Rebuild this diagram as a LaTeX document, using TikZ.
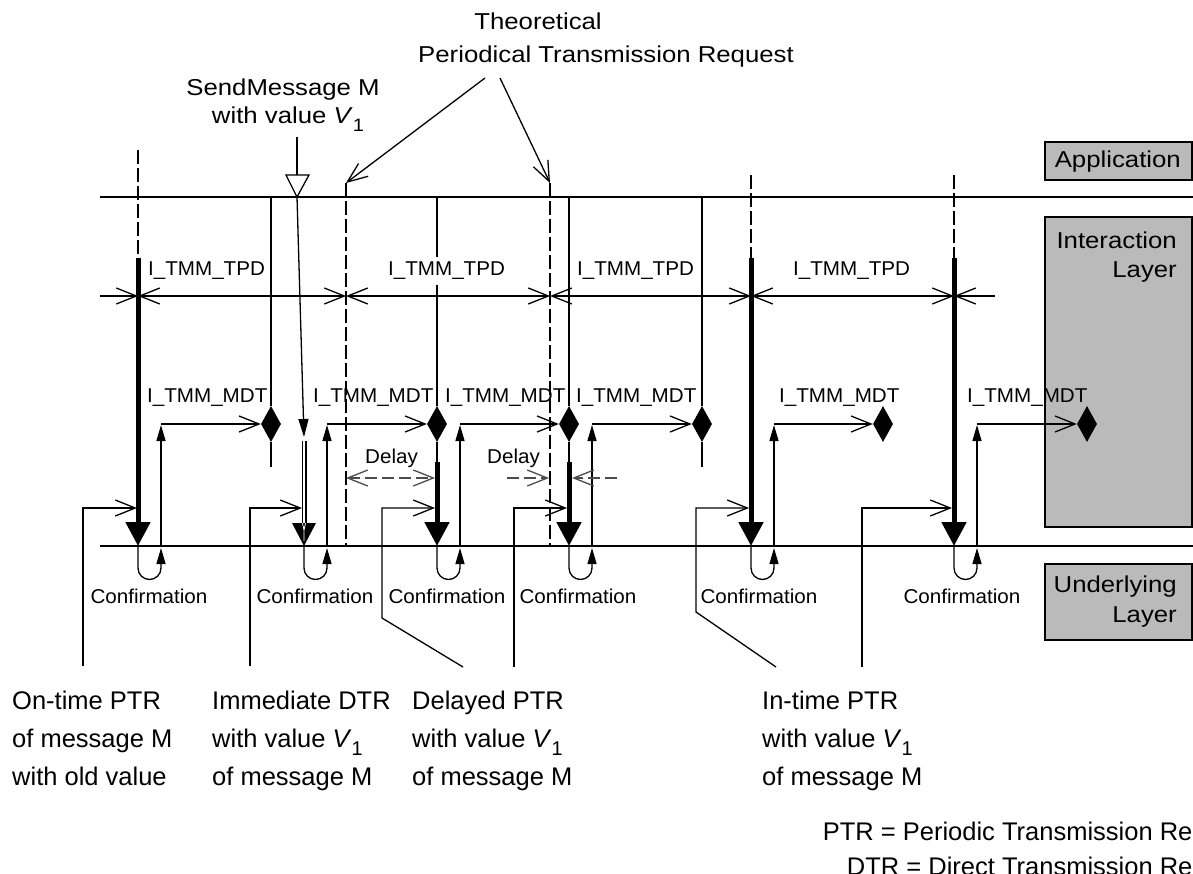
\documentclass[tikz,border=0pt]{standalone}
\usepackage{fontspec}
\usepackage{graphicx}
\setmainfont{Liberation Sans}
\newfontfamily\lblface[FakeStretch=1.03]{Liberation Sans}
\newfontfamily\bigface[FakeStretch=1.12]{Liberation Sans}
\usetikzlibrary{arrows.meta,shapes.geometric}

\newcommand{\lblsize}{\lblface\fontsize{20}{24}\selectfont}
\newcommand{\bigsize}{\bigface\fontsize{23}{28}\selectfont}
\newcommand{\botsize}{\fontsize{25.5}{31}\selectfont}
\newcommand{\vone}{\textit{V}\raisebox{-0.32em}{\scalebox{0.78}{1}}}

\tikzset{
  vee/.tip={Straight Barb[length=20pt,width=16pt,line width=1.3pt]},
  smallfill/.tip={Triangle[length=16pt,width=9pt]},
  slimfill/.tip={Triangle[length=18pt,width=10pt]},
  bigfill/.tip={Triangle[length=24pt,width=24pt]},
  layerline/.style={line width=2.8pt},
  reqline/.style={line width=2.6pt},
  mdtline/.style={line width=2pt},
  ptrline/.style={line width=5pt},
  thinline/.style={line width=1.3pt},
  periodline/.style={line width=1.4pt,dash pattern=on 14pt off 4pt},
  delayline/.style={line width=1.4pt,draw=black!70,dash pattern=on 12pt off 5pt},
  dia/.style={diamond,fill=black,inner sep=0pt,minimum width=20pt,minimum height=36pt},
  layerbox/.style={draw=black,line width=2.4pt,fill=black!27},
  lbltext/.style={font=\lblsize,inner sep=0pt},
  tpdtext/.style={font=\lblsize,fill=white,inner xsep=0pt,inner ysep=5pt},
  bigtext/.style={font=\bigsize,inner sep=0pt},
  bottext/.style={font=\botsize,inner sep=0pt,anchor=base west},
}

\begin{document}
\begin{tikzpicture}[x=1pt,y=-1pt]
\useasboundingbox (0,0) rectangle (1193,874);
\clip (0,0) rectangle (1193,874);

% ---------- layer boxes on the right ----------
\draw[layerbox] (1045,142) rectangle (1192,180);
\draw[layerbox] (1045,217) rectangle (1192,527);
\draw[layerbox] (1045,564) rectangle (1192,640);
\node[bigtext,anchor=base east] (app) at (1181,168) {Application};
\node[bigtext,anchor=base east] (int1) at (1177,249) {Interaction};
\node[bigtext,anchor=base east] (int2) at (1177,278) {Layer};
\node[bigtext,anchor=base east] (und1) at (1177,592) {Underlying};
\node[bigtext,anchor=base east] (und2) at (1177,622) {Layer};

% ---------- layer boundaries ----------
\coordinate (aL) at (100,197); \coordinate (aR) at (1193,197);
\coordinate (uL) at (100,546); \coordinate (uR) at (1193,546);
\draw[layerline] (aL) -- (aR);
\draw[layerline] (uL) -- (uR);

% ---------- theoretical period instants ----------
\foreach \n/\x/\top/\cut in {1/138/150/258, 2/346/183/546, 3/550/183/546, 4/751/175/258, 5/954/175/258}{
  \coordinate (pt\n) at (\x,\top);
  \coordinate (pc\n) at (\x,\cut);
  \coordinate (pb\n) at (\x,546);
  \draw[periodline] (pt\n) -- (pc\n);
}

% ---------- I_TMM_TPD dimension line ----------
\coordinate (tpd0) at (100,296);
\foreach \n/\x in {1/138, 2/346, 3/550, 4/751, 5/954}{ \coordinate (tpd\n) at (\x,296); }
\coordinate (tpd6) at (995,296);
\draw[thinline,-{vee}] (tpd0) -- (tpd1);
\draw[thinline,{vee}-{vee}] (tpd1) -- (tpd2);
\draw[thinline,{vee}-{vee}] (tpd2) -- (tpd3);
\draw[thinline,{vee}-{vee}] (tpd3) -- (tpd4);
\draw[thinline,{vee}-{vee}] (tpd4) -- (tpd5);
\draw[thinline,{vee}-] (tpd5) -- (tpd6);

% ---------- MDT expiry diamonds and request lines ----------
\foreach \n/\x in {1/271, 2/437, 3/569, 4/702, 5/883, 6/1087}{
  \node[dia] (d\n) at (\x,424) {};
}
\foreach \n/\x in {1/271, 2/437, 3/569, 4/702}{
  \coordinate (r\n) at (\x,197);
  \draw[reqline] (r\n) -- (d\n.north);
}
\coordinate (tail1) at (271,467);
\coordinate (tail4) at (702,467);
\draw[reqline] (d1.south) -- (tail1);
\draw[reqline] (d4.south) -- (tail4);

% ---------- periodic transmission requests ----------
\draw[ptrline,-{bigfill}] (pc1) -- (pb1);
\draw[ptrline,-{bigfill}] (pc4) -- (pb4);
\draw[ptrline,-{bigfill}] (pc5) -- (pb5);
\coordinate (k2) at (437,462); \coordinate (k3) at (569,462);
\coordinate (kb2) at (437,546); \coordinate (kb3) at (569,546);
\draw[reqline] (d2.south) -- (k2);
\draw[reqline] (d3.south) -- (k3);
\draw[ptrline,-{bigfill}] (k2) -- (kb2);
\draw[ptrline,-{bigfill}] (k3) -- (kb3);

% ---------- SendMessage and direct transmission request ----------
\coordinate (smtop) at (297,137);
\coordinate (smbase) at (297,175);
\coordinate (smtip) at (297,197);
\coordinate (dtr0) at (304,437);
\coordinate (dtr1) at (304,441);
\coordinate (dtr2) at (304,523);
\coordinate (dtrb) at (304,546);
\draw[thinline] (smtop) -- (smbase);
\draw[thinline,fill=white] (286,175) -- (309,175) -- (smtip) -- cycle;
\draw[thinline,-{slimfill}] (smtip) -- (dtr0);
\draw[line width=1.2pt,double distance=2.6pt] (dtr1) -- (dtr2);
\fill (292,523) -- (316,523) -- (dtrb) -- cycle;
\draw[white,line width=0.8pt] (302.4,523) -- (304,530) -- (305.6,523) (304,530) -- (304,541);

% ---------- confirmations and MDT start ----------
\foreach \c/\n in {138/1, 304/2, 437/3, 569/4, 751/5, 954/6}{
  \coordinate (cf\n) at (\c,546);
  \coordinate (up\n) at (\c+23,546);
  \coordinate (mt\n) at (\c+23,424);
  \draw[thinline,-{smallfill}] (cf\n) -- (\c,568) arc[start angle=180,end angle=0,radius=11.5] -- (\c+23,548);
  \draw[thinline,-{smallfill}] (up\n) -- (\c+23,425);
  \draw[mdtline,-{vee}] (mt\n) -- (d\n.west);
}

% ---------- delay indications ----------
\coordinate (dl1a) at (346,478); \coordinate (dl1b) at (435,478);
\draw[delayline,{vee}-{vee}] (dl1a) -- (dl1b);
\coordinate (dl2a) at (507,478); \coordinate (dl2b) at (549,478);
\coordinate (dl2c) at (617,478); \coordinate (dl2d) at (572,478);
\draw[delayline,-{vee}] (dl2a) -- (dl2b);
\draw[delayline,-{vee}] (dl2c) -- (dl2d);
\node[lbltext,anchor=base west] (dly1) at (365,463) {Delay};
\node[lbltext,anchor=base west] (dly2) at (487,463) {Delay};

% ---------- labels of the periods ----------
\node[tpdtext,anchor=base west] (tpdl1) at (148,276) {I\_TMM\_TPD};
\node[tpdtext,anchor=base west] (tpdl2) at (388,276) {I\_TMM\_TPD};
\node[tpdtext,anchor=base west] (tpdl3) at (577,276) {I\_TMM\_TPD};
\node[tpdtext,anchor=base west] (tpdl4) at (793,276) {I\_TMM\_TPD};
\foreach \n/\x in {1/147, 2/313, 3/445, 4/576, 5/779, 6/967}{
  \node[lbltext,anchor=base west] (mdtl\n) at (\x,402) {I\_TMM\_MDT};
}
\foreach \n/\x in {1/149, 2/315, 3/447, 4/578, 5/759, 6/962}{
  \node[lbltext,anchor=base] (conf\n) at (\x,603) {Confirmation};
}

% ---------- top annotations ----------
\node[bigtext,anchor=base] (theo1) at (538,30) {Theoretical};
\node[bigtext,anchor=base] (theo2) at (606,63) {Periodical Transmission Request};
\node[bigtext,anchor=base] (send1) at (283,96) {SendMessage M};
\node[bigtext,anchor=base] (send2) at (288,124) {with value \vone};
\coordinate (th1) at (485,78); \coordinate (th2) at (500,78);
\draw[thinline,-{vee}] (th1) -- (pt2);
\draw[thinline,-{vee}] (th2) -- (pt3);

% ---------- pointers to the request kinds ----------
\draw[thinline,-{vee}] (83,666) -- (83,508) -- (137,508);
\draw[thinline,-{vee}] (250,666) -- (250,508) -- (302,508);
\draw[thinline,-{vee}] (463,667) -- (382,618) -- (382,508) -- (435,508);
\draw[thinline,-{vee}] (514,667) -- (514,508) -- (567,508);
\draw[thinline,-{vee}] (776,667) -- (696,612) -- (696,508) -- (749,508);
\draw[thinline,-{vee}] (862,667) -- (862,508) -- (952,508);

\node[bottext] (on1) at (12,709) {On-time PTR};
\node[bottext] (on2) at (12,747) {of message M};
\node[bottext] (on3) at (12,785) {with old value};
\node[bottext] (im1) at (212,709) {Immediate DTR};
\node[bottext] (im2) at (212,747) {with value \vone};
\node[bottext] (im3) at (212,785) {of message M};
\node[bottext] (de1) at (412,709) {Delayed PTR};
\node[bottext] (de2) at (412,747) {with value \vone};
\node[bottext] (de3) at (412,785) {of message M};
\node[bottext] (in1) at (762,709) {In-time PTR};
\node[bottext] (in2) at (762,747) {with value \vone};
\node[bottext] (in3) at (762,785) {of message M};

% ---------- legend ----------
\node[font=\botsize,inner sep=0pt,anchor=base east] (leg1) at (1255,840) {PTR = Periodic Transmission Request};
\node[font=\botsize,inner sep=0pt,anchor=base east] (leg2) at (1255,875) {DTR = Direct Transmission Request};
\end{tikzpicture}
\end{document}
